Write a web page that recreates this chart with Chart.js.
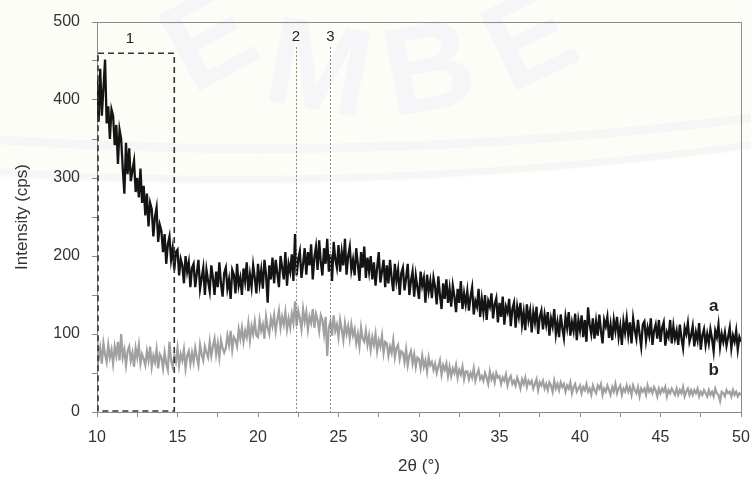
<!DOCTYPE html>
<html>
<head>
<meta charset="utf-8">
<script src="https://cdn.jsdelivr.net/npm/chart.js@4.4.1/dist/chart.umd.min.js"></script>
<style>
  html, body { margin: 0; padding: 0; background: #fff; }
  #wrap { width: 751px; height: 477px; }
</style>
</head>
<body>
<div id="wrap"><canvas id="xrd" width="751" height="477"></canvas></div>
<script>
// ---------- DATA (0.1 deg steps from 10 to 50) ----------
const thetaStart = 10;
const thetaStep = 0.1;

// curve a (black)
const seriesA = [
  425, 372, 440, 380, 415, 452, 370, 392, 350, 388,
  380, 342, 368, 318, 362, 350, 312, 280, 345, 305,
  338, 296, 310, 322, 282, 300, 275, 312, 268, 290,
  252, 280, 238, 268, 260, 225, 250, 262, 218, 240,
  232, 205, 228, 190, 215, 225, 195, 210, 182, 205,
  208, 175, 196, 188, 165, 200, 180, 192, 160, 185,
  190, 160, 178, 195, 158, 172, 185, 150, 182, 168,
  155, 188, 172, 150, 180, 160, 192, 165, 148, 178,
  185, 158, 170, 145, 182, 176, 152, 190, 162, 172,
  150, 184, 168, 192, 155, 176, 160, 188, 172, 152,
  190, 165, 182, 158, 195, 176, 140, 188, 170, 198,
  165, 195, 178, 160, 200, 185, 170, 205, 162, 190,
  180, 202, 168, 228, 175, 196, 206, 172, 190, 210,
  176, 205, 188, 215, 170, 198, 212, 182, 220, 192,
  175, 210, 190, 222, 180, 202, 168, 218, 196, 185,
  214, 180, 205, 188, 222, 176, 200, 212, 182, 195,
  175, 210, 190, 168, 205, 185, 212, 172, 198, 180,
  200, 170, 192, 162, 185, 205, 166, 180, 195, 160,
  188, 165, 195, 172, 155, 190, 168, 182, 150, 178,
  185, 156, 172, 190, 150, 168, 180, 148, 175, 160,
  145, 180, 162, 172, 140, 176, 155, 168, 146, 172,
  160, 138, 174, 150, 132, 165, 145, 170, 140, 158,
  135, 162, 148, 128, 158, 140, 168, 132, 152, 138,
  155, 130, 148, 160, 125, 142, 135, 158, 122, 145,
  128, 150, 118, 142, 135, 152, 120, 138, 146, 115,
  140, 122, 148, 112, 135, 128, 145, 110, 132, 140,
  108, 135, 122, 140, 112, 128, 105, 138, 118, 130,
  102, 128, 115, 135, 100, 122, 130, 106, 125, 112,
  128, 98, 120, 110, 132, 100, 115, 96, 125, 108,
  95, 122, 108, 128, 98, 115, 104, 126, 92, 118,
  105, 124, 96, 118, 90, 134, 112, 100, 120, 94,
  116, 98, 125, 104, 88, 118, 110, 122, 95, 112,
  92, 118, 104, 122, 96, 110, 86, 116, 102, 120,
  98, 115, 88, 120, 105, 94, 118, 100, 84, 112,
  116, 92, 108, 98, 120, 86, 104, 112, 94, 118,
  90, 108, 115, 85, 102, 96, 118, 88, 110, 94,
  104, 86, 112, 95, 82, 108, 100, 114, 90, 98,
  110, 84, 102, 92, 114, 80, 98, 106, 86, 100,
  88, 106, 94, 78, 104, 96, 112, 84, 100, 90,
  102, 85, 96, 108, 82, 98, 90, 104, 80, 96,
  90
];

// curve b (grey)
const seriesB = [
  98, 68, 82, 62, 88, 74, 64, 86, 70, 80,
  62, 84, 72, 90, 66, 100, 70, 80, 60, 78,
  84, 66, 76, 58, 82, 70, 86, 62, 74, 68,
  60, 78, 66, 84, 58, 72, 64, 80, 56, 74,
  70, 56, 76, 62, 54, 90, 66, 58, 72, 64,
  82, 60, 74, 66, 80, 56, 72, 78, 62, 76,
  64, 82, 70, 60, 86, 74, 66, 84, 76, 70,
  90, 72, 84, 94, 74, 88, 70, 92, 82, 76,
  82, 98, 86, 104, 80, 96, 92, 84, 106, 94,
  108, 90, 104, 96, 114, 92, 110, 100, 116, 98,
  96, 118, 104, 112, 94, 122, 108, 100, 120, 110,
  124, 104, 118, 130, 108, 122, 112, 128, 106, 120,
  108, 126, 114, 142, 110, 130, 120, 106, 132, 116,
  128, 106, 122, 114, 132, 108, 126, 118, 104, 124,
  118, 100, 122, 72, 108, 116, 98, 124, 104, 112,
  96, 118, 106, 92, 114, 100, 110, 94, 112, 98,
  106, 88, 100, 84, 108, 94, 90, 104, 86, 98,
  80, 96, 86, 100, 78, 92, 84, 98, 76, 90,
  88, 72, 84, 76, 92, 70, 82, 86, 68, 78,
  76, 64, 80, 60, 72, 78, 62, 74, 58, 70,
  68, 56, 72, 58, 66, 52, 70, 60, 64, 54,
  62, 50, 58, 66, 48, 60, 54, 62, 46, 58,
  46, 56, 50, 60, 44, 54, 48, 58, 42, 52,
  52, 42, 50, 44, 56, 40, 48, 54, 42, 46,
  40, 50, 44, 36, 52, 42, 48, 38, 50, 44,
  46, 36, 44, 40, 48, 34, 42, 46, 36, 40,
  34, 44, 38, 30, 42, 36, 44, 32, 40, 36,
  40, 30, 36, 42, 28, 38, 34, 40, 30, 36,
  28, 38, 34, 26, 40, 30, 36, 28, 38, 32,
  36, 26, 34, 30, 38, 24, 32, 36, 26, 30,
  34, 24, 32, 28, 36, 26, 30, 22, 34, 28,
  24, 34, 30, 36, 22, 30, 26, 34, 28, 22,
  32, 26, 36, 24, 30, 34, 22, 30, 26, 34,
  26, 32, 22, 34, 28, 24, 32, 20, 30, 26,
  30, 22, 34, 26, 30, 24, 32, 28, 20, 30,
  24, 30, 26, 32, 20, 28, 24, 30, 26, 22,
  30, 22, 28, 24, 32, 20, 26, 30, 22, 28,
  22, 28, 24, 30, 20, 26, 22, 28, 24, 20,
  28, 22, 26, 20, 30, 24, 22, 14, 26, 24,
  20, 28, 24, 26, 20, 28, 22, 26, 20, 24,
  22
];

// marked regions / positions
const region1 = { from: 10, to: 14.8, top: 460, label: "1", labelAt: 12.05 };
const markerLines = [
  { at: 22.35, top: 468, label: "2" },
  { at: 24.5, top: 468, label: "3" }
];
const curveLabels = [
  { text: "a", x: 48.3, y: 135 },
  { text: "b", x: 48.3, y: 53 }
];

// helpers
function toPoints(values) {
  return values.map((v, i) => ({ x: +(thetaStart + i * thetaStep).toFixed(2), y: v }));
}

// faint scanned-page watermark behind the chart
const watermark = {
  id: "watermark",
  beforeDraw(chart) {
    const { ctx, width } = chart;
    ctx.save();
    ctx.fillStyle = "#fdfdf8";
    ctx.beginPath();
    ctx.moveTo(0, 0);
    ctx.lineTo(width, 0);
    ctx.lineTo(width, 150);
    ctx.quadraticCurveTo(width / 2, 200, 0, 178);
    ctx.closePath();
    ctx.fill();
    // arcs
    ctx.strokeStyle = "#f6f6f7";
    ctx.lineWidth = 9;
    ctx.beginPath();
    ctx.moveTo(0, 140);
    ctx.quadraticCurveTo(width / 2, 165, width, 118);
    ctx.stroke();
    ctx.lineWidth = 7;
    ctx.beginPath();
    ctx.moveTo(0, 172);
    ctx.quadraticCurveTo(width / 2, 195, width, 145);
    ctx.stroke();
    // letters
    ctx.fillStyle = "#f6f6f9";
    ctx.font = "bold 125px 'Liberation Sans', Arial, sans-serif";
    ctx.textAlign = "center";
    ctx.textBaseline = "middle";
    [["E", 212, 45, -0.5], ["M", 318, 75, 0.18], ["B", 430, 75, -0.18], ["E", 532, 45, -0.45]].forEach(([t, x, y, r]) => {
      ctx.save();
      ctx.translate(x, y);
      ctx.rotate(r);
      ctx.fillText(t, 0, 0);
      ctx.restore();
    });
    ctx.restore();
  }
};

// ---------- PLUGIN: frame, region box, marker lines, labels ----------
const overlay = {
  id: "overlay",
  afterDatasetsDraw(chart) {
    const { ctx, chartArea, scales } = chart;
    const xs = scales.x, ys = scales.y;
    ctx.save();

    // top + right frame
    ctx.strokeStyle = "#8a8a8a";
    ctx.lineWidth = 1;
    ctx.beginPath();
    ctx.moveTo(chartArea.left, chartArea.top + 0.5);
    ctx.lineTo(chartArea.right + 0.5, chartArea.top + 0.5);
    ctx.lineTo(chartArea.right + 0.5, chartArea.bottom);
    ctx.stroke();

    // dashed box 1
    const bx0 = xs.getPixelForValue(region1.from) + 1;
    const bx1 = xs.getPixelForValue(region1.to);
    const by0 = ys.getPixelForValue(region1.top);
    const by1 = ys.getPixelForValue(0) - 1;
    ctx.strokeStyle = "#333";
    ctx.lineWidth = 1.6;
    ctx.setLineDash([6, 4]);
    ctx.strokeRect(bx0, by0, bx1 - bx0, by1 - by0);

    // dotted marker lines
    ctx.strokeStyle = "#888";
    ctx.lineWidth = 1;
    ctx.setLineDash([2, 2]);
    markerLines.forEach(m => {
      const px = Math.round(xs.getPixelForValue(m.at)) + 0.5;
      ctx.beginPath();
      ctx.moveTo(px, ys.getPixelForValue(m.top));
      ctx.lineTo(px, ys.getPixelForValue(0));
      ctx.stroke();
    });
    ctx.setLineDash([]);

    // labels 1, 2, 3
    ctx.fillStyle = "#222";
    ctx.font = "15px 'Liberation Sans Narrow', 'Liberation Sans', Arial, sans-serif";
    ctx.textAlign = "center";
    ctx.textBaseline = "middle";
    ctx.fillText(region1.label, xs.getPixelForValue(region1.labelAt), ys.getPixelForValue(region1.top) - 14);
    markerLines.forEach(m => {
      ctx.fillText(m.label, xs.getPixelForValue(m.at), ys.getPixelForValue(m.top) - 10);
    });

    // curve labels a, b
    ctx.font = "bold 17px 'Liberation Sans', Arial, sans-serif";
    curveLabels.forEach(l => {
      ctx.fillText(l.text, xs.getPixelForValue(l.x), ys.getPixelForValue(l.y));
    });
    ctx.restore();
  }
};

const tickFont = { family: "'Liberation Sans', Arial, sans-serif", size: 16 };
const axisGrid = { display: true, drawOnChartArea: false, drawTicks: true, tickLength: 5, color: "#8a8a8a" };

new Chart(document.getElementById("xrd"), {
  type: "line",
  data: {
    datasets: [
      { label: "b", data: toPoints(seriesB), borderColor: "#a0a0a0", borderWidth: 2.2, pointRadius: 0, tension: 0 },
      { label: "a", data: toPoints(seriesA), borderColor: "#141414", borderWidth: 2.3, pointRadius: 0, tension: 0 }
    ]
  },
  options: {
    responsive: false,
    animation: false,
    devicePixelRatio: 1,
    layout: { padding: { top: 22, right: 10, left: 0, bottom: 0 } },
    plugins: { legend: { display: false }, tooltip: { enabled: false } },
    scales: {
      x: {
        type: "linear", min: 10, max: 50,
        afterFit: s => { s.height = 65; s.paddingLeft = 0; s.paddingRight = 0; },
        ticks: { stepSize: 2.5, autoSkip: false, maxRotation: 0, padding: 11, color: "#333", font: tickFont,
          callback: v => (v % 5 === 0 ? v : "") },
        grid: axisGrid,
        border: { display: true, color: "#8a8a8a", width: 1 },
        title: { display: true, text: "2θ (°)", color: "#333", font: { family: tickFont.family, size: 17 }, padding: { top: 2, bottom: 0 } }
      },
      y: {
        min: 0, max: 500,
        afterFit: s => { s.width = 97; s.paddingTop = 0; s.paddingBottom = 0; },
        ticks: { stepSize: 50, autoSkip: false, padding: 12, color: "#333", font: tickFont,
          callback: v => (v % 100 === 0 ? v : "") },
        grid: axisGrid,
        border: { display: true, color: "#8a8a8a", width: 1 },
        title: { display: true, text: "Intensity (cps)", color: "#333", font: { family: tickFont.family, size: 17 }, padding: { top: 12, bottom: 0 } }
      }
    }
  },
  plugins: [watermark, overlay]
});
</script>
</body>
</html>
